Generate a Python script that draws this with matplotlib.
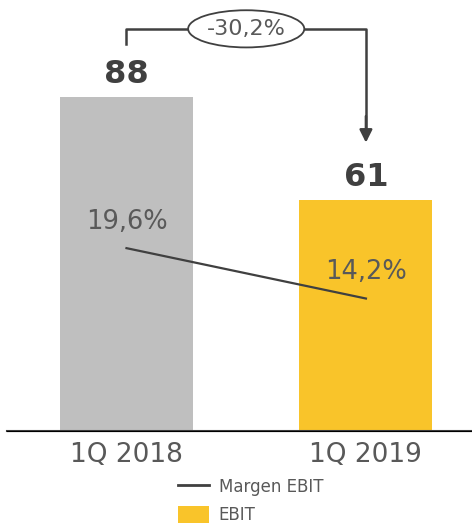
import matplotlib.pyplot as plt
from matplotlib.lines import Line2D
from matplotlib.patches import Patch, Ellipse

categories = ["1Q 2018", "1Q 2019"]
ebit = [88, 61]
margin = [19.6, 14.2]
margin_labels = ["19,6%", "14,2%"]
change_label = "-30,2%"

bar_colours = ["#BFBFBF", "#F9C42A"]
text_colour = "#595959"
bold_colour = "#404040"
line_colour = "#404040"

plt.rcParams["font.family"] = ["DejaVu Sans"]

fig = plt.figure(figsize=(4.72, 5.26), dpi=100)
ax = fig.add_axes([7 / 472, 1 - 431 / 526, 465 / 472, 431 / 526])
ax2 = ax.twinx()

x = list(range(len(categories)))
ax.bar(x, ebit, width=0.555, color=bar_colours, zorder=1)
ax.set_xlim(-0.499, 1.443)
ax.set_ylim(0, 113.6)
ax2.set_ylim(0, 46.2)

ax2.plot(x, margin, color=line_colour, lw=1.6)
for xi, m, lab in zip(x, margin, margin_labels):
    ax2.annotate(lab, (xi, m), xytext=(0, 9.5), textcoords="offset points",
                 ha="center", va="bottom", fontsize=18.5, color=text_colour)

for xi, v in zip(x, ebit):
    ax.annotate(str(v), (xi, v), xytext=(0, 5), textcoords="offset points",
                ha="center", va="bottom", fontsize=23, fontweight="bold",
                color=bold_colour)

# bracket with the change between the two bars
top = max(ebit) + 18
ax.plot([x[0], x[0], x[1], x[1]], [ebit[0] + 14, top, top, ebit[1] + 19],
        color=line_colour, lw=1.8, clip_on=False, zorder=3)
ax.annotate("", xy=(x[1], ebit[1] + 15), xytext=(x[1], ebit[1] + 22),
            arrowprops=dict(arrowstyle="-|>", color=line_colour, lw=1.8,
                            mutation_scale=19, shrinkA=0, shrinkB=0),
            annotation_clip=False)
mid = (x[0] + x[1]) / 2
ax.add_patch(Ellipse((mid, top), 0.485, 9.8, facecolor="white",
                     edgecolor=line_colour, lw=1.3, clip_on=False, zorder=4))
ax.text(mid, top, change_label, ha="center", va="center", fontsize=16,
        color=text_colour, zorder=5)

for a in (ax, ax2):
    for s in ("top", "right", "left"):
        a.spines[s].set_visible(False)
    a.set_yticks([])
ax.spines["bottom"].set_color(line_colour)
ax.spines["bottom"].set_linewidth(1.5)
ax.set_xticks(x)
ax.set_xticklabels(categories, fontsize=19, color=text_colour)
ax.tick_params(axis="x", length=0, pad=8)

handles = [Line2D([0], [0], color=line_colour, lw=2),
           Patch(facecolor=bar_colours[1])]
fig.legend(handles, ["Margen EBIT", "EBIT"], loc="upper left",
           bbox_to_anchor=(163 / 472, 1 - 463 / 526), frameon=False,
           fontsize=12, labelcolor=text_colour, handlelength=1.85,
           handleheight=1.2, handletextpad=0.6, labelspacing=0.6)

fig.savefig("out.png", dpi=100)
